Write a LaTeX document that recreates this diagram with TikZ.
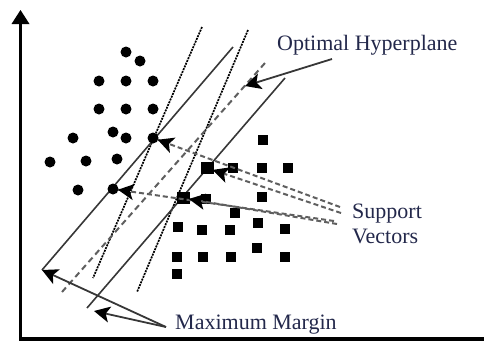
\documentclass[tikz,border=0pt]{standalone}
\usepackage{fontspec}
\setmainfont{Liberation Serif}
\usetikzlibrary{calc}
\definecolor{txt}{RGB}{35,40,75}
\definecolor{lg}{RGB}{55,55,55}
\definecolor{dg}{RGB}{95,95,95}
\newcommand\arrhead[2]{\fill[black] (#1) -- ($(#1)!18pt!27:(#2)$) -- ($(#1)!12pt!(#2)$) -- ($(#1)!18pt!-27:(#2)$) -- cycle;}
\begin{document}
\begin{tikzpicture}[x=1pt,y=-1pt,
 dot/.style={circle,fill=black,inner sep=0pt,minimum size=11pt},
 sq/.style={rectangle,fill=black,inner sep=0pt,minimum size=10pt},
 sv/.style={rectangle,fill=black,inner sep=0pt,minimum width=13pt,minimum height=12pt},
 axis/.style={line width=3.2pt,black},
 margin/.style={line width=1.6pt,lg},
 opt/.style={line width=2pt,dg,dash pattern=on 6pt off 4pt},
 other/.style={line width=1.7pt,black,dash pattern=on 2pt off 1pt},
 svline/.style={line width=2pt,dg,dash pattern=on 5pt off 3pt},
 pointer/.style={line width=1.8pt,lg},
 lbl/.style={font=\fontsize{22}{25}\selectfont,text=txt,inner sep=0pt}]
\useasboundingbox (0,0) rectangle (484,349);

% axes
\coordinate (ytop) at (20.5,10);
\coordinate (ybase) at (20.5,22);
\coordinate (O) at (20.5,339);
\coordinate (xend) at (484,339);
\draw[axis] (ybase) -- (O) -- (xend);
\fill[black] (ytop) -- ($(ytop)+(-9,14)$) -- ($(ytop)+(9,14)$) -- cycle;

% non-optimal hyperplanes
\coordinate (a1) at (202,27); \coordinate (a2) at (93,278);
\coordinate (b1) at (248,30); \coordinate (b2) at (137,292);
\draw[other] (a1) -- (a2);
\draw[other] (b1) -- (b2);

% margins and optimal hyperplane
\coordinate (m1a) at (42,270); \coordinate (m1b) at (233,47);
\coordinate (m2a) at (87,308); \coordinate (m2b) at (285,78);
\coordinate (oa) at (62,292);  \coordinate (ob) at (265,63);
\draw[margin] (m1a) -- (m1b);
\draw[margin] (m2a) -- (m2b);
\draw[opt] (oa) -- (ob);

% circles
\foreach \n/\p in {c1/{(126,52)},c2/{(140,61)},c3/{(99,81)},c4/{(126,81)},c5/{(153,81)},
  c6/{(99,109)},c7/{(126,109)},c8/{(153,109)},c9/{(113,132)},c10/{(73,138)},c11/{(126,138)},
  c13/{(50,162)},c14/{(86,161)},c15/{(117,159)},c16/{(78,190)}}
  \node[dot] (\n) at \p {};
\node[dot] (csv1) at (153,138) {};
\node[dot] (csv2) at (113,189) {};

% squares
\foreach \n/\p in {s1/{(263,140)},s2/{(233,168)},s3/{(262,168)},s4/{(288,168)},s5/{(262,197)},
  s6/{(206,199)},s7/{(235,213)},s8/{(178,227)},s9/{(202,230)},s10/{(230,230)},s11/{(258,223)},
  s12/{(285,229)},s13/{(257,248)},s14/{(177,257)},s15/{(203,257)},s16/{(231,257)},s17/{(285,257)},
  s18/{(177,274)}}
  \node[sq] (\n) at \p {};
\node[sv] (ssv1) at (207,168) {};
\node[sv] (ssv2) at (183,198) {};

% labels
\node[lbl,anchor=base west] (optl) at (277,50) {Optimal Hyperplane};
\node[lbl,anchor=base west] (supl) at (352,218) {Support};
\node[lbl,anchor=base west] (vecl) at (352,243) {Vectors};
\node[lbl,anchor=base west] (mml) at (175,329) {Maximum Margin};

% optimal hyperplane arrow
\coordinate (oharr) at (332,59);
\coordinate (ohtip) at (245,86);
\draw[pointer] (oharr) -- ($(ohtip)!10pt!(oharr)$);
\arrhead{ohtip}{oharr}

% support vector arrows
\coordinate (t1) at (340,207);
\coordinate (t2) at (341,213);
\coordinate (t3) at (334,221);
\coordinate (t4) at (337,224);
\coordinate (h1) at ($(csv1)!5pt!(t1)$);
\coordinate (h2) at ($(ssv1)!6pt!(t2)$);
\coordinate (h3) at ($(csv2)!5pt!(t3)$);
\coordinate (h4) at ($(ssv2)!6pt!(t4)$);
\draw[svline] (t1) -- (h1);
\draw[svline] (t2) -- (h2);
\draw[svline] (t3) -- (h3);
\draw[svline] (t4) -- (h4);
\arrhead{h1}{t1}
\arrhead{h2}{t2}
\arrhead{h3}{t3}
\arrhead{h4}{t4}

% maximum margin arrows
\coordinate (mmo) at (166,327);
\coordinate (mt2) at (94,311);
\draw[pointer] (mmo) -- ($(m1a)!10pt!(mmo)$);
\draw[pointer] (mmo) -- ($(mt2)!10pt!(mmo)$);
\arrhead{m1a}{mmo}
\arrhead{mt2}{mmo}
\end{tikzpicture}
\end{document}
